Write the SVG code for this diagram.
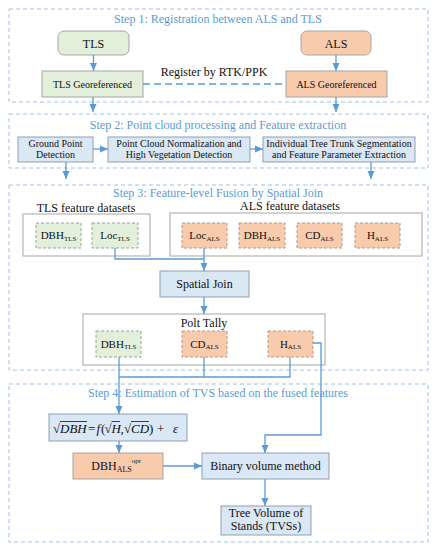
<svg xmlns="http://www.w3.org/2000/svg" width="435" height="550" viewBox="0 0 435 550" font-family="'Liberation Serif', 'DejaVu Serif', serif">
<defs>
<marker id="ah" markerUnits="userSpaceOnUse" markerWidth="8" markerHeight="8" viewBox="0 0 8 8" refX="8" refY="4" orient="auto">
<path d="M0,0.5 L8,4 L0,7.5 z" fill="#5b9bd5"/>
</marker>
</defs>
<style>
text{font-family:'Liberation Serif','DejaVu Serif',serif;fill:#111;text-anchor:middle}
.step{fill:none;stroke:#9dc3e6;stroke-width:1;stroke-dasharray:4 3}
.title{fill:#5b9bd5;font-size:12px}
.blue{fill:#dae7f5;stroke:#8f9fb3;stroke-width:1}
.green{fill:#e2efda;stroke:#a5a5a5;stroke-width:1}
.orange{fill:#f8cbad;stroke:#a5a5a5;stroke-width:1}
.gd{fill:#e2efda;stroke:#9aa596;stroke-width:1;stroke-dasharray:3 2}
.od{fill:#f8cbad;stroke:#b5968a;stroke-width:1;stroke-dasharray:3 2}
.grp{fill:#fff;stroke:#a5a5a5;stroke-width:1}
.c{fill:none;stroke:#5b9bd5;stroke-width:1.3}
.ca{fill:none;stroke:#5b9bd5;stroke-width:1.3;marker-end:url(#ah)}
.t10{font-size:10px}
.t12{font-size:12px}
text.fx{text-anchor:start;font-size:13px}
.it{font-style:italic}
</style>

<g id="step1">
<rect class="step" x="9" y="9" width="419" height="93"/>
<text class="title" x="218" y="23">Step 1: Registration between ALS and TLS</text>
</g>
<g id="step2">
<rect class="step" x="9" y="114" width="419" height="54"/>
<text class="title" x="218" y="129">Step 2: Point cloud processing and Feature extraction</text>
</g>
<g id="step3">
<rect class="step" x="9" y="185" width="419" height="185"/>
<text class="title" x="218" y="197">Step 3: Feature-level Fusion by Spatial Join</text>
</g>
<g id="step4">
<rect class="step" x="9" y="384" width="419" height="158"/>
<text class="title" x="218" y="397">Step 4: Estimation of TVS based on the fused features</text>
</g>

<g id="tls">
<rect class="green" x="58" y="31" width="71" height="24" rx="6"/>
<text class="t12" x="93.5" y="47.5">TLS</text>
</g>
<g id="als">
<rect class="orange" x="301" y="31" width="70" height="24" rx="6"/>
<text class="t12" x="336" y="47.5">ALS</text>
</g>
<g id="tls-geo">
<rect class="green" x="42" y="71" width="101" height="26"/>
<text class="t10" x="92.5" y="87.5">TLS Georeferenced</text>
</g>
<g id="als-geo">
<rect class="orange" x="286" y="71" width="101" height="26"/>
<text class="t10" x="336.5" y="87.5">ALS Georeferenced</text>
</g>
<text class="t12" x="214" y="76">Register by RTK/PPK</text>

<g id="ground">
<rect class="blue" x="18" y="137" width="75" height="25"/>
<text class="t10" x="55.5" y="147">Ground Point</text>
<text class="t10" x="55.5" y="158">Detection</text>
</g>
<g id="normalization">
<rect class="blue" x="108" y="137" width="142" height="25"/>
<text class="t10" x="179" y="147">Point Cloud Normalization and</text>
<text class="t10" x="179" y="158">High Vegetation Detection</text>
</g>
<g id="segmentation">
<rect class="blue" x="263" y="137" width="152" height="25"/>
<text class="t10" x="339" y="147">Individual Tree Trunk Segmentation</text>
<text class="t10" x="339" y="158">and Feature Parameter Extraction</text>
</g>

<g id="tls-datasets">
<text class="t12" x="86" y="212">TLS feature datasets</text>
<rect class="grp" x="23" y="214" width="127" height="42"/>
</g>
<g id="als-datasets">
<text class="t12" x="290" y="210">ALS feature datasets</text>
<rect class="grp" x="170" y="213" width="252" height="43"/>
</g>
<g id="dbh-tls">
<rect class="gd" x="36" y="223" width="45" height="25"/>
<text x="58.5" y="239"><tspan font-size="11">DBH</tspan><tspan font-size="7" dy="1.5">TLS</tspan></text>
</g>
<g id="loc-tls">
<rect class="gd" x="92" y="223" width="46" height="25"/>
<text x="115" y="239"><tspan font-size="11">Loc</tspan><tspan font-size="7" dy="1.5">TLS</tspan></text>
</g>
<g id="loc-als">
<rect class="od" x="182" y="223" width="45" height="25"/>
<text x="204.5" y="239"><tspan font-size="11">Loc</tspan><tspan font-size="7" dy="1.5">ALS</tspan></text>
</g>
<g id="dbh-als">
<rect class="od" x="239" y="223" width="46" height="25"/>
<text x="262" y="239"><tspan font-size="11">DBH</tspan><tspan font-size="7" dy="1.5">ALS</tspan></text>
</g>
<g id="cd-als">
<rect class="od" x="297" y="223" width="45" height="25"/>
<text x="319.5" y="239"><tspan font-size="11">CD</tspan><tspan font-size="7" dy="1.5">ALS</tspan></text>
</g>
<g id="h-als">
<rect class="od" x="355" y="223" width="45" height="25"/>
<text x="377.5" y="239"><tspan font-size="11">H</tspan><tspan font-size="7" dy="1.5">ALS</tspan></text>
</g>

<g id="spatial-join">
<rect class="blue" x="160" y="271" width="89" height="26"/>
<text class="t12" x="204.5" y="288">Spatial Join</text>
</g>

<g id="plot-tally">
<rect class="grp" x="83" y="314" width="242" height="51"/>
<text class="t12" x="204" y="327">Polt Tally</text>
</g>
<g id="pt-dbh-tls">
<rect class="gd" x="96" y="331" width="45" height="26"/>
<text x="118.5" y="347.5"><tspan font-size="11">DBH</tspan><tspan font-size="7" dy="1.5">TLS</tspan></text>
</g>
<g id="pt-cd-als">
<rect class="od" x="182" y="331" width="45" height="26"/>
<text x="204.5" y="347.5"><tspan font-size="11">CD</tspan><tspan font-size="7" dy="1.5">ALS</tspan></text>
</g>
<g id="pt-h-als">
<rect class="od" x="268" y="331" width="45" height="26"/>
<text x="290.5" y="347.5"><tspan font-size="11">H</tspan><tspan font-size="7" dy="1.5">ALS</tspan></text>
</g>

<g id="formula">
<rect class="blue" x="49" y="414" width="138" height="27"/>
<text class="fx" y="433"><tspan x="53">√</tspan><tspan class="it" x="60">DBH</tspan><tspan x="88">=</tspan><tspan class="it" x="96.5">f</tspan><tspan x="101">(</tspan><tspan x="104.5">√</tspan><tspan class="it" x="111.5">H</tspan><tspan x="120.5">,</tspan><tspan x="124">√</tspan><tspan class="it" x="131">CD</tspan><tspan x="149">)</tspan><tspan x="157">+</tspan><tspan class="it" x="173">ε</tspan></text>
<path d="M60,421.5 H87 M111.5,421.5 H120 M131,421.5 H149" stroke="#111" stroke-width="0.8" fill="none"/>
</g>
<g id="dbh-opt">
<rect class="orange" x="73" y="453" width="90" height="26"/>
<text x="116" y="470"><tspan font-size="12">DBH</tspan><tspan font-size="8" dy="2">ALS</tspan><tspan font-size="7" dy="-9">opt</tspan></text>
</g>
<g id="binary">
<rect class="blue" x="202" y="453" width="127" height="26"/>
<text class="t12" x="265.5" y="470">Binary volume method</text>
</g>
<g id="tvs">
<rect class="blue" x="221" y="506" width="90" height="29"/>
<text class="t12" x="266" y="517">Tree Volume of</text>
<text class="t12" x="266" y="530">Stands (TVSs)</text>
</g>

<g id="connectors">
<path class="ca" d="M93.5,55 V71"/>
<path class="ca" d="M336,55 V71"/>
<path d="M143,84 H286" fill="none" stroke="#5b9bd5" stroke-width="1.3" stroke-dasharray="7 4"/>
<path class="ca" d="M93,97 V112"/>
<path class="ca" d="M336,97 V112"/>
<path class="ca" d="M93,149 H108"/>
<path class="ca" d="M250,149 H263"/>
<path class="ca" d="M66,162 V179"/>
<path class="ca" d="M371,162 V179"/>
<path class="c" d="M115,248 V259 H204"/>
<path class="ca" d="M204,248 V271"/>
<path class="ca" d="M204,297 V314"/>
<path class="ca" d="M119,357 V414"/>
<path class="c" d="M204,357 V377 H119"/>
<path class="c" d="M290,357 V377 H204"/>
<path class="ca" d="M313,343 H321 V435 H265 V453"/>
<path class="ca" d="M119,441 V453"/>
<path class="ca" d="M163,466 H202"/>
<path class="ca" d="M265,479 V506"/>
</g>
</svg>
